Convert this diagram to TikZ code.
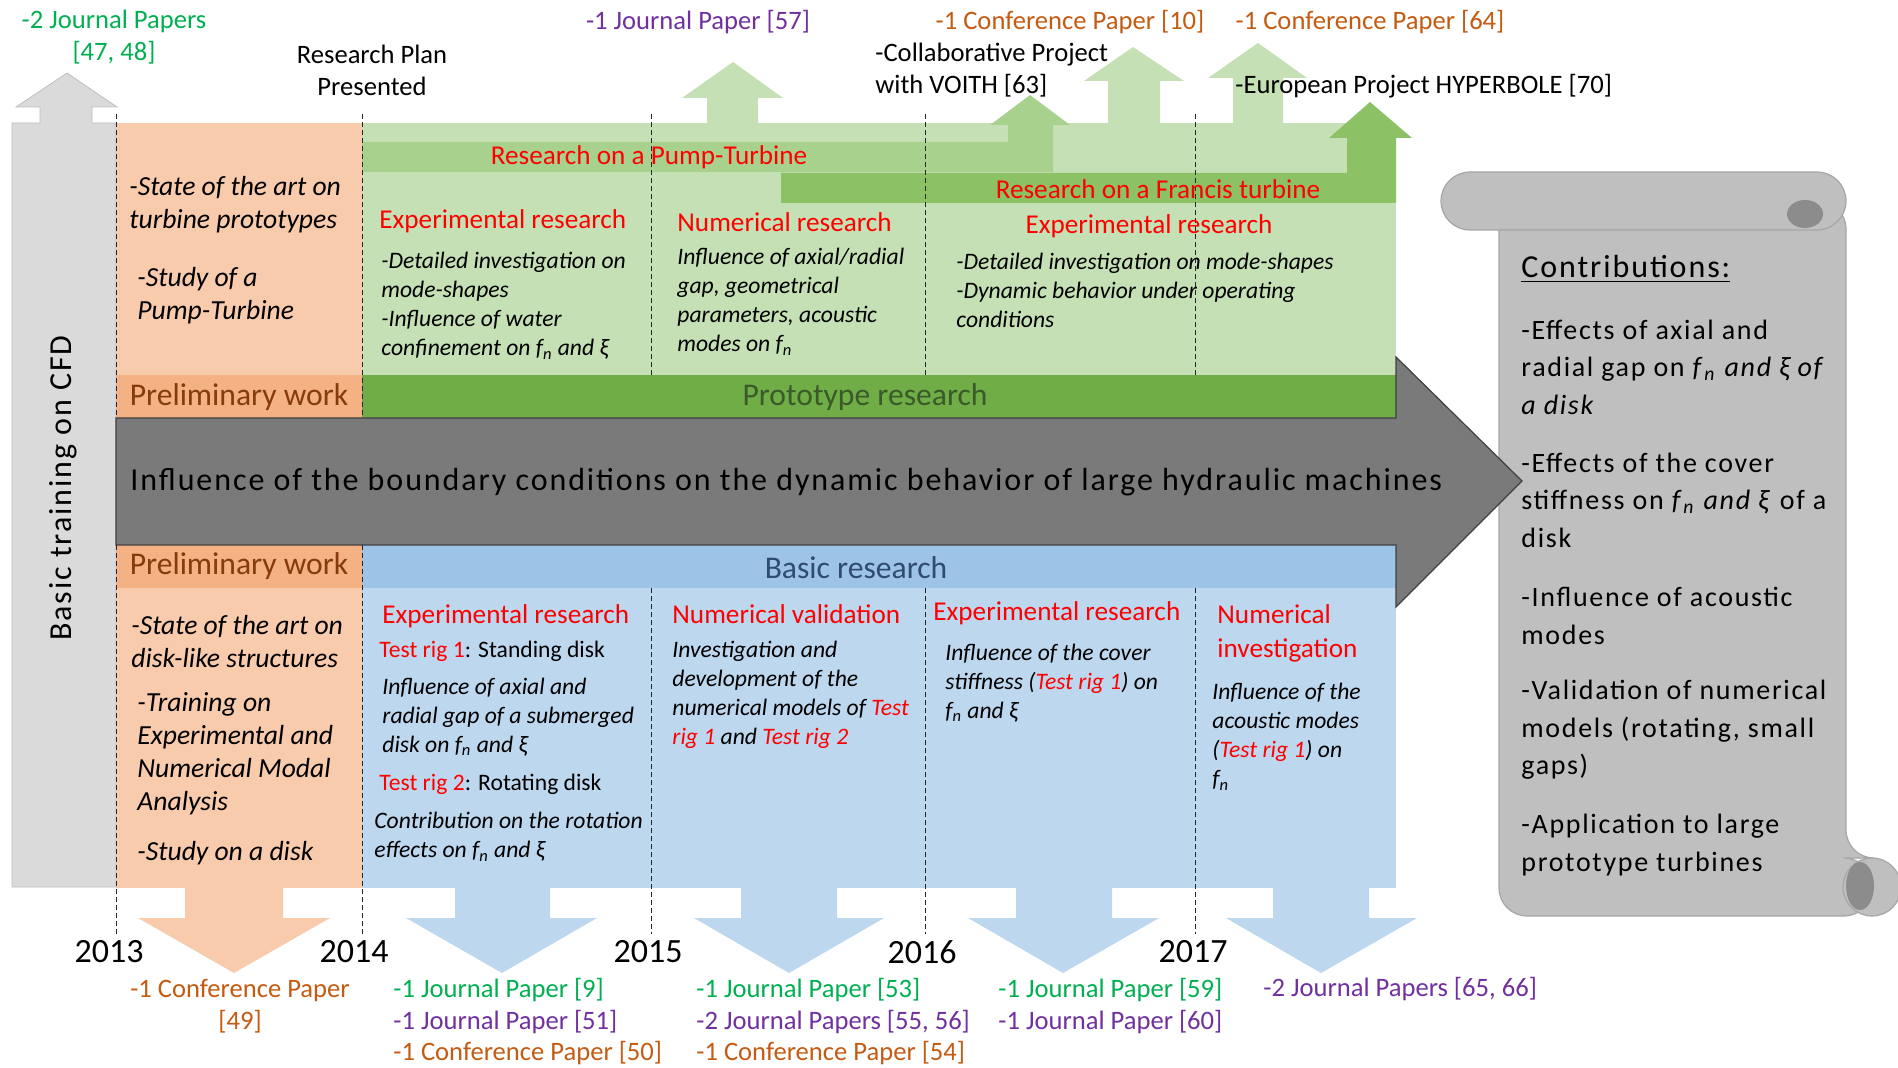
\documentclass[tikz,border=0pt]{standalone}
\usepackage{fontspec}
\setmainfont{Carlito}
\newfontfamily\spacedfont[LetterSpace=6]{Carlito}
\usepackage{tikz}
\usetikzlibrary{calc}

\definecolor{pgreen}{HTML}{00B050}
\definecolor{ppurple}{HTML}{7030A0}
\definecolor{porange}{HTML}{C55A11}
\definecolor{orgL}{HTML}{F8CBAD}
\definecolor{orgD}{HTML}{F4B183}
\definecolor{grnL}{HTML}{C5E0B4}
\definecolor{grnD}{HTML}{70AD47}
\definecolor{grnP}{HTML}{A9D18E}
\definecolor{grnF}{HTML}{8CC166}
\definecolor{bluL}{HTML}{BDD7EE}
\definecolor{bluD}{HTML}{9DC3E6}
\definecolor{boxgrey}{HTML}{DADADA}
\definecolor{arrgrey}{HTML}{7A7A7A}
\definecolor{scrgrey}{HTML}{BFBFBF}
\definecolor{curlgrey}{HTML}{8C8C8C}
\definecolor{brownT}{HTML}{843C0C}
\definecolor{dgrnT}{HTML}{3A5A2A}
\definecolor{dbluT}{HTML}{2F4B6E}

\newcommand{\fnat}{\textit{f}\textsubscript{\textit{n}}}
\newcommand{\damp}{\textit{ξ}}
\newcommand{\rig}[1]{\textcolor{red}{#1}}

\begin{document}
\begin{tikzpicture}[x=0.5pt,y=-0.5pt,
lbl/.style ={inner sep=0pt, align=center, font=\fontsize{13.3}{16}\selectfont},
hdr/.style ={inner sep=0pt, align=left, text=red, font=\fontsize{13.6}{17}\selectfont},
txt/.style ={inner sep=0pt, align=left, anchor=west, font=\itshape\fontsize{11.8}{14.5}\selectfont},
rigtxt/.style ={inner sep=0pt, anchor=west, font=\fontsize{11.8}{14.5}\selectfont},
prel/.style ={inner sep=0pt, align=left, anchor=west, font=\itshape\fontsize{13.8}{16.5}\selectfont},
band/.style ={inner sep=0pt, font=\fontsize{15.8}{18}\selectfont},
year/.style ={inner sep=0pt, font=\fontsize{17}{20}\selectfont},
contr/.style ={inner sep=0pt, align=left, anchor=west, font=\spacedfont\fontsize{14}{18.75}\selectfont},
scroll/.style ={fill=scrgrey, draw=black!35, line width=0.6pt},
bigarrow/.style ={fill=arrgrey, draw=black!75, line width=0.6pt},
yearline/.style ={line width=0.5pt, dash pattern=on 2.5pt off 1.5pt, black!85}
]
\useasboundingbox (0,0) rectangle (1898,1068);

% contributions scroll
\draw[scroll, rounded corners=14pt] (1499,201) -- (1499,916) -- (1872,916) -- (1872,858) -- (1846,858) -- (1846,201) -- cycle;
\draw[scroll] (1872,887) circle[radius=14.5pt];
\fill[curlgrey] (1860,886) ellipse[x radius=7pt, y radius=12pt];
\draw[scroll, rounded corners=14.5pt] (1441,172) rectangle (1846,230);
\fill[curlgrey] (1805,214) ellipse[x radius=9pt, y radius=7pt];

% basic training (grey box with arrow)
\draw[draw=black!25, fill=boxgrey] (12,123) -- (40,123) -- (40,107) -- (16,107) -- (67,73) -- (117,107) -- (92,107) -- (92,123) -- (116,123) -- (116,887) -- (12,887) -- cycle;

% pale up arrows
\fill[grnL] (707,126) -- (707,98) -- (682,98) -- (733,62) -- (783,98) -- (758,98) -- (758,126) -- cycle;
\fill[grnL] (1108,126) -- (1108,81) -- (1084,81) -- (1133,47) -- (1184,81) -- (1160,81) -- (1160,126) -- cycle;
\fill[grnL] (1233,126) -- (1233,78) -- (1208,78) -- (1258,43) -- (1307,78) -- (1283,78) -- (1283,126) -- cycle;

% regions
\fill[orgL] (116,123) rectangle (362,375);
\fill[orgD] (116,375) rectangle (362,418);
\fill[grnL] (362,123) rectangle (1396,375);
\fill[grnD] (362,375) rectangle (1396,418);
\fill[orgD] (116,545) rectangle (362,588);
\fill[orgL] (116,588) rectangle (362,888);
\fill[bluD] (362,545) rectangle (1396,588);
\fill[bluL] (362,588) rectangle (1396,888);

% research bars
\fill[grnP] (362,142) -- (1008,142) -- (1008,125) -- (990,125) -- (1030,95) -- (1070,125) -- (1053,125) -- (1053,172) -- (362,172) -- cycle;
\fill[grnF] (781,173) -- (1347,173) -- (1347,138) -- (1329,138) -- (1370,102) -- (1412,138) -- (1396,138) -- (1396,203) -- (781,203) -- cycle;

% down arrows
\fill[orgL] (185,880) -- (185,918) -- (138,918) -- (234,973) -- (330,918) -- (283,918) -- (283,880) -- cycle;
\fill[bluL] (455,880) -- (455,918) -- (406,918) -- (502,973) -- (597,918) -- (550,918) -- (550,880) -- cycle;
\fill[bluL] (741,880) -- (741,918) -- (694,918) -- (789,973) -- (884,918) -- (837,918) -- (837,880) -- cycle;
\fill[bluL] (1016,880) -- (1016,918) -- (968,918) -- (1063,973) -- (1159,918) -- (1112,918) -- (1112,880) -- cycle;
\fill[bluL] (1273,880) -- (1273,918) -- (1226,918) -- (1321,973) -- (1417,918) -- (1369,918) -- (1369,880) -- cycle;

% main arrow
\draw[bigarrow] (116,418) -- (1396,418) -- (1396,357) -- (1522,481) -- (1396,607) -- (1396,545) -- (116,545) -- cycle;

% year lines
\draw[yearline] (116,114) -- (116,418);  \draw[yearline] (116,545) -- (116,934);
\draw[yearline] (362,114) -- (362,418);  \draw[yearline] (362,545) -- (362,934);
\draw[yearline] (651,114) -- (651,375);  \draw[yearline] (651,588) -- (651,934);
\draw[yearline] (925,114) -- (925,375);  \draw[yearline] (925,588) -- (925,934);
\draw[yearline] (1195,114) -- (1195,375);  \draw[yearline] (1195,588) -- (1195,934);

% top labels
\draw (114,37) node[lbl, text=pgreen] (J1) {-2 Journal Papers\\{}[47, 48]};
\draw (372,70) node[lbl] (RP) {Research Plan\\Presented};
\draw (698,22) node[lbl, text=ppurple] (J2) {-1 Journal Paper [57]};
\draw (1070,22) node[lbl, text=porange] (C1) {-1 Conference Paper [10]};
\draw (1370,22) node[lbl, text=porange] (C2) {-1 Conference Paper [64]};
\draw (875,70) node[lbl, anchor=west, align=left] (VO) {-Collaborative Project\\with VOITH [63]};
\draw (1235,86) node[lbl, anchor=west] (HY) {-European Project HYPERBOLE [70]};

% upper half
\draw (129,205) node[prel] (P1) {-State of the art on\\turbine prototypes};
\draw (137,296) node[prel] (P2) {-Study of a\\Pump-Turbine};
\draw (649,157) node[hdr] (PT) {Research on a Pump-Turbine};
\draw (1158,189) node[hdr] (FT) {Research on a Francis turbine};
\draw (379,221) node[hdr, anchor=west] (E1) {Experimental research};
\draw (381,306) node[txt] (E1t) {-Detailed investigation on\\mode-shapes\\-Influence of water\\confinement on \fnat{} and \damp};
\draw (677,222) node[hdr, anchor=west] (N1) {Numerical research};
\draw (677,302) node[txt] (N1t) {Influence of axial/radial\\gap, geometrical\\parameters, acoustic\\modes on \fnat};
\draw (1149,226) node[hdr] (E2) {Experimental research};
\draw (956,290) node[txt] (E2t) {-Detailed investigation on mode-shapes\\-Dynamic behavior under operating\\conditions};
\draw (239,397) node[band, text=brownT] (PW1) {Preliminary work};
\draw (865,397) node[band, text=dgrnT] (PR) {Prototype research};

% main arrow text
\draw (130,482) node[anchor=west, inner sep=0pt, font=\spacedfont\fontsize{16}{19}\selectfont] (T) {Influence of the boundary conditions on the dynamic behavior of large hydraulic machines};
\draw (63,488) node[rotate=90, inner sep=0pt, font=\spacedfont\fontsize{16}{19}\selectfont] (CFD) {Basic training on CFD};

% lower half
\draw (239,566) node[band, text=brownT] (PW2) {Preliminary work};
\draw (856,568) node[band, text=dbluT] (BR) {Basic research};
\draw (131,642) node[prel] (P3) {-State of the art on\\disk-like structures};
\draw (137,754) node[prel] (P4) {-Training on\\Experimental and\\Numerical Modal\\Analysis};
\draw (137,853) node[prel] (P5) {-Study on a disk};
\draw (382,616) node[hdr, anchor=west] (E3) {Experimental research};
\draw (379,651) node[rigtxt] (R1) {\rig{Test rig 1}: Standing disk};
\draw (382,717) node[txt] (R1t) {Influence of axial and\\radial gap of a submerged\\disk on \fnat{} and \damp};
\draw (379,784) node[rigtxt] (R2) {\rig{Test rig 2}: Rotating disk};
\draw (374,837) node[txt] (R2t) {Contribution on the rotation\\effects on \fnat{} and \damp};
\draw (672,614) node[hdr, anchor=west] (N2) {Numerical validation};
\draw (672,695) node[txt] (N2t) {Investigation and\\development of the\\numerical models of \rig{Test}\\\rig{rig 1} and \rig{Test rig 2}};
\draw (933,613) node[hdr, anchor=west] (E4) {Experimental research};
\draw (945,683) node[txt] (E4t) {Influence of the cover\\stiffness (\rig{Test rig 1}) on\\\fnat{} and \damp};
\draw (1217,633) node[hdr, anchor=west] (N3) {Numerical\\investigation};
\draw (1212,737) node[txt] (N3t) {Influence of the\\acoustic modes\\(\rig{Test rig 1}) on\\\fnat};

% years
\draw (109,952) node[year] (Y13) {2013};
\draw (354,952) node[year] (Y14) {2014};
\draw (648,952) node[year] (Y15) {2015};
\draw (922,952) node[year] (Y16) {2016};
\draw (1193,952) node[year] (Y17) {2017};

% bottom labels
\draw (240,1006) node[lbl, text=porange] (B1) {-1 Conference Paper\\{}[49]};
\draw (393,990) node[lbl, anchor=west, text=pgreen] (B2) {-1 Journal Paper [9]};
\draw (393,1022) node[lbl, anchor=west, text=ppurple] (B3) {-1 Journal Paper [51]};
\draw (393,1053) node[lbl, anchor=west, text=porange] (B4) {-1 Conference Paper [50]};
\draw (696,990) node[lbl, anchor=west, text=pgreen] (B5) {-1 Journal Paper [53]};
\draw (696,1022) node[lbl, anchor=west, text=ppurple] (B6) {-2 Journal Papers [55, 56]};
\draw (696,1053) node[lbl, anchor=west, text=porange] (B7) {-1 Conference Paper [54]};
\draw (998,990) node[lbl, anchor=west, text=pgreen] (B8) {-1 Journal Paper [59]};
\draw (998,1022) node[lbl, anchor=west, text=ppurple] (B9) {-1 Journal Paper [60]};
\draw (1263,989) node[lbl, anchor=west, text=ppurple] (B10) {-2 Journal Papers [65, 66]};

% contributions
\draw (1521,269) node[contr, font=\spacedfont\fontsize{16}{19}\selectfont] (CT) {\underline{Contributions:}};
\draw (1521,367) node[contr] (K1) {-Effects of axial and\\radial gap on \fnat{} \textit{and ξ of}\\\textit{a disk}};
\draw (1521,500) node[contr] (K2) {-Effects of the cover\\stiffness on \fnat{} \textit{and ξ} of a\\disk};
\draw (1521,616) node[contr] (K3) {-Influence of acoustic\\modes};
\draw (1521,730) node[contr] (K4) {-Validation of numerical\\models (rotating, small\\gaps)};
\draw (1521,845) node[contr] (K5) {-Application to large\\prototype turbines};

\end{tikzpicture}
\end{document}
